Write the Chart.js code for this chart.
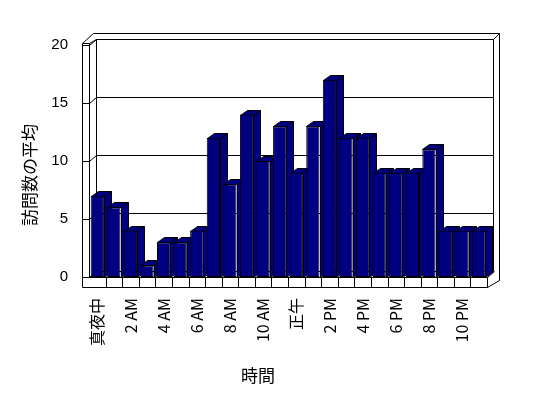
<!DOCTYPE html>
<html lang="ja">
<head>
<meta charset="utf-8">
<title>時間別の平均訪問数</title>
<script src="https://cdn.jsdelivr.net/npm/chart.js@4.4.1/dist/chart.umd.min.js"></script>
<style>
  html, body { margin: 0; padding: 0; background: #fff; }
  #chart { display: block; }
</style>
</head>
<body>
<canvas id="chart" width="548" height="398"></canvas>
<script>
// データ
const hours = [
    '真夜中', '1 AM', '2 AM', '3 AM', '4 AM', '5 AM', '6 AM', '7 AM', '8 AM', '9 AM', '10 AM', '11 AM',
    '正午', '1 PM', '2 PM', '3 PM', '4 PM', '5 PM', '6 PM', '7 PM', '8 PM', '9 PM', '10 PM', '11 PM'
];
const avgVisits = [7, 6, 4, 1, 3, 3, 4, 12, 8, 14, 10, 13, 9, 13, 17, 12, 12, 9, 9, 9, 11, 4, 4, 4];
const yTickValues = [0, 5, 10, 15, 20];
const yTitle = '訪問数の平均';
const xTitle = '時間';

const NAVY = '#000080';
const LATIN = '"Liberation Sans", Arial, "Noto Sans CJK JP", sans-serif';
const CJK = '"Noto Sans CJK JP", "Liberation Sans", sans-serif';

// 奥行き (3D風の枠と棒)
const WALL_DX = 7, WALL_DY = -6;
const BAR_DX = 7, BAR_DY = -5;

function px(v) {
    return Math.round(v) + 0.5;
}

function line(ctx, x1, y1, x2, y2) {
    ctx.beginPath();
    ctx.moveTo(px(x1), px(y1));
    ctx.lineTo(px(x2), px(y2));
    ctx.stroke();
}

function poly(ctx, pts) {
    ctx.beginPath();
    pts.forEach(function(p, i) {
        if (i === 0) ctx.moveTo(px(p[0]), px(p[1]));
        else ctx.lineTo(px(p[0]), px(p[1]));
    });
    ctx.closePath();
    ctx.fill();
    ctx.stroke();
}

/**
 * 壁・床・目盛り線、棒の上面と側面
 */
const frame3d = {
    id: 'frame3d',
    beforeDatasetsDraw: function(chart) {
        const ctx = chart.ctx;
        const xs = chart.scales.x;
        const ys = chart.scales.y;
        const L = chart.chartArea.left;
        const R = chart.chartArea.right;
        const B = chart.chartArea.bottom;
        const T = ys.getPixelForValue(yTickValues[yTickValues.length - 1]);

        ctx.save();
        ctx.strokeStyle = '#000';
        ctx.fillStyle = '#fff';
        ctx.lineWidth = 1;

        // 左の壁 (前面)
        line(ctx, L - 7, T - 2, L - 7, B + 10);
        line(ctx, L, T - 2, L, B);
        line(ctx, L - 7, T - 2, L, T - 2);
        // 壁の上端
        line(ctx, L - 7, T - 2, L + 4, T - 12);
        line(ctx, L, T - 2, L + WALL_DX, T + WALL_DY);
        line(ctx, L + 4, T - 12, R + 12, T - 12);
        // 奥の壁
        line(ctx, L + WALL_DX, T + WALL_DY, R + 6, T + WALL_DY);
        line(ctx, L + WALL_DX, T + WALL_DY, L + WALL_DX, B + WALL_DY);
        line(ctx, R + 6, T + WALL_DY, R + 6, B + WALL_DY);
        line(ctx, R + 6, T + WALL_DY, R + 12, T - 12);
        line(ctx, R + 12, T - 12, R + 12, B + 3);
        line(ctx, R + 12, B + 3, R, B + 10);

        // 目盛り線
        yTickValues.forEach(function(v) {
            const y = ys.getPixelForValue(v);
            line(ctx, L - 7, y, L, y);
            line(ctx, L, y, L + WALL_DX, y + WALL_DY);
            line(ctx, L + WALL_DX, y + WALL_DY, R + 6, y + WALL_DY);
        });

        // 床
        line(ctx, L, B, R, B);
        line(ctx, L - 7, B + 10, R, B + 10);
        line(ctx, R, B, R, B + 10);
        line(ctx, R, B, R + WALL_DX, B + WALL_DY);
        const half = (xs.getPixelForValue(1) - xs.getPixelForValue(0)) / 2;
        for (let i = 1; i < hours.length; i++) {
            const x = xs.getPixelForValue(i) - half;
            line(ctx, x, B, x, B + 10);
        }

        // 棒の上面と側面
        ctx.fillStyle = NAVY;
        chart.getDatasetMeta(0).data.forEach(function(bar) {
            const p = bar.getProps(['x', 'y', 'base', 'width'], true);
            const left = p.x - p.width / 2;
            const right = p.x + p.width / 2;
            poly(ctx, [[left, p.y], [left + BAR_DX, p.y + BAR_DY], [right + BAR_DX, p.y + BAR_DY], [right, p.y]]);
            poly(ctx, [[right, p.y], [right + BAR_DX, p.y + BAR_DY], [right + BAR_DX, p.base + BAR_DY], [right, p.base]]);
        });
        ctx.restore();
    },
    afterDraw: function(chart) {
        const ctx = chart.ctx;
        ctx.save();
        ctx.fillStyle = '#000';
        ctx.font = '17px ' + CJK;
        ctx.textAlign = 'center';
        ctx.textBaseline = 'middle';
        ctx.fillText(xTitle, 258, 376);
        ctx.translate(30, 175);
        ctx.rotate(-Math.PI / 2);
        ctx.fillText(yTitle, 0, 0);
        ctx.restore();
    }
};

new Chart(document.getElementById('chart'), {
    type: 'bar',
    data: {
        labels: hours,
        datasets: [{
            label: yTitle,
            data: avgVisits,
            backgroundColor: NAVY,
            borderColor: '#000',
            borderWidth: 1,
            borderSkipped: false,
            barPercentage: 0.8,
            categoryPercentage: 1.0
        }]
    },
    options: {
        responsive: false,
        animation: false,
        layout: {
            padding: { top: 45, right: 61, bottom: 0, left: 0 }
        },
        plugins: {
            legend: { display: false },
            tooltip: { enabled: false }
        },
        scales: {
            x: {
                grid: { display: false, drawTicks: false },
                border: { display: false },
                ticks: {
                    autoSkip: false,
                    minRotation: 90,
                    maxRotation: 90,
                    padding: 21,
                    color: '#000',
                    font: { family: CJK, size: 16 },
                    callback: function(value, index) {
                        return index % 2 === 0 ? hours[index] : '';
                    }
                },
                afterFit: function(scale) {
                    scale.height = 121;
                }
            },
            y: {
                min: 0,
                max: 20,
                grid: { display: false, drawTicks: false },
                border: { display: false },
                ticks: {
                    stepSize: 5,
                    padding: 21,
                    color: '#000',
                    font: { family: LATIN, size: 15 }
                },
                afterFit: function(scale) {
                    scale.width = 89;
                }
            }
        }
    },
    plugins: [frame3d]
});
</script>
</body>
</html>
